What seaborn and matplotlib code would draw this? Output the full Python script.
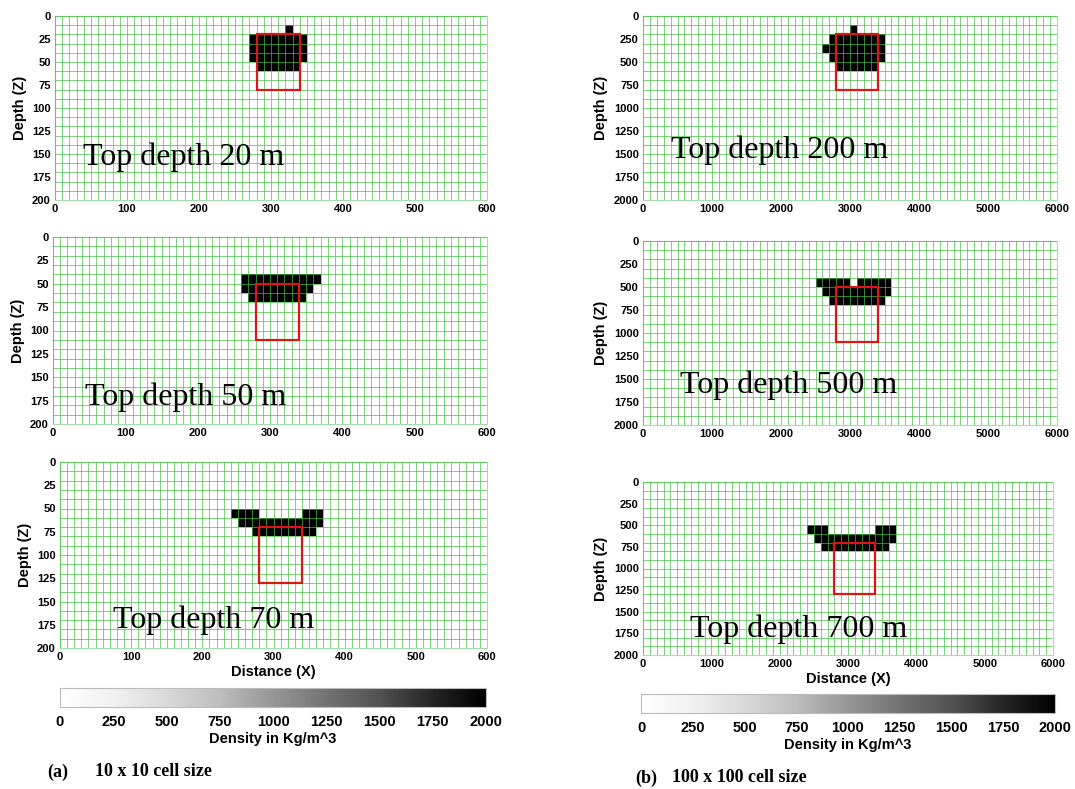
import numpy as np
import matplotlib
matplotlib.use("Agg")
import matplotlib.pyplot as plt
import seaborn as sns
from matplotlib.patches import Rectangle

# ---------------- data ----------------
density_value = 2000
n_cols, n_rows = 60, 20

# black cells given as runs: (top depth of row, x start, x end)
rows_a20 = [(10, 320, 330), (20, 270, 350), (30, 270, 350), (40, 270, 350), (50, 280, 340)]
rows_a50 = [(40, 260, 370), (50, 260, 360), (60, 270, 350)]
rows_a70 = [(50, 240, 280), (50, 340, 370), (60, 250, 370), (70, 270, 360)]
rows_b200 = [(100, 3000, 3100), (200, 2700, 3500), (300, 2600, 3500), (400, 2700, 3500), (500, 2800, 3400)]
rows_b500 = [(400, 2500, 3000), (400, 3100, 3600), (500, 2600, 3600), (600, 2700, 3500)]
rows_b700 = [(500, 2400, 2700), (500, 3400, 3700), (600, 2500, 3700), (700, 2600, 3600)]

top_depths_a = [20, 50, 70]
top_depths_b = [200, 500, 700]
box_x_a = [280, 340]
box_x_b = [2800, 3400]
box_h_a = 60
box_h_b = 600
cell_a = 10
cell_b = 100

xtick_a = [0, 100, 200, 300, 400, 500, 600]
ytick_a = [0, 25, 50, 75, 100, 125, 150, 175, 200]
xtick_b = [0, 1000, 2000, 3000, 4000, 5000, 6000]
ytick_b = [0, 250, 500, 750, 1000, 1250, 1500, 1750, 2000]
cbar_ticks = [0, 250, 500, 750, 1000, 1250, 1500, 1750, 2000]

# ---------------- layout ----------------
W, H = 1075, 789
fig = plt.figure(figsize=(W / 100, H / 100), dpi=100)
plt.rcParams['font.family'] = ['Liberation Sans', 'DejaVu Sans']


def px_axes(x0, x1, y0, y1):
    return fig.add_axes([x0 / W, (H - y1) / H, (x1 - x0) / W, (y1 - y0) / H])


panels = [
    (rows_a20, cell_a, top_depths_a[0], box_x_a, box_h_a, xtick_a, ytick_a, (55, 487, 16, 200), (0.065, 0.234), False),
    (rows_a50, cell_a, top_depths_a[1], box_x_a, box_h_a, xtick_a, ytick_a, (53, 487, 237, 424), (0.074, 0.144), False),
    (rows_a70, cell_a, top_depths_a[2], box_x_a, box_h_a, xtick_a, ytick_a, (60, 487, 462, 648), (0.124, 0.15), True),
    (rows_b200, cell_b, top_depths_b[0], box_x_b, box_h_b, xtick_b, ytick_b, (643, 1057, 16, 200), (0.068, 0.272), False),
    (rows_b500, cell_b, top_depths_b[1], box_x_b, box_h_b, xtick_b, ytick_b, (643, 1057, 241, 425), (0.089, 0.217), False),
    (rows_b700, cell_b, top_depths_b[2], box_x_b, box_h_b, xtick_b, ytick_b, (643, 1053, 482, 655), (0.115, 0.15), True),
]

cbar_px = [(60, 486, 688, 707), (641, 1055, 694, 713)]
grid_color = '#45c045'

for i, (rows, cell, top, bx, bh, xt, yt, apx, tpos, show_xl) in enumerate(panels):
    grid = np.zeros((n_rows, n_cols))
    for (z, xs, xe) in rows:
        r = int(round(z / cell))
        grid[r, int(round(xs / cell)):int(round(xe / cell))] = density_value

    ax = px_axes(*apx)
    draw_cbar = i in (2, 5)
    cax = None
    if draw_cbar:
        cpx = cbar_px[0] if i == 2 else cbar_px[1]
        cax = px_axes(*cpx)
    sns.heatmap(grid, ax=ax, cmap='Greys', vmin=0, vmax=2000,
                cbar=draw_cbar, cbar_ax=cax,
                cbar_kws={'orientation': 'horizontal', 'ticks': cbar_ticks} if draw_cbar else None,
                xticklabels=False, yticklabels=False)

    ax.set_xticks([v / cell for v in xt])
    ax.set_xticklabels([str(v) for v in xt], fontsize=8, fontweight='bold', rotation=0)
    ax.set_yticks([v / cell for v in yt])
    ax.set_yticklabels([str(v) for v in yt], fontsize=8, fontweight='bold', rotation=0)
    ax.tick_params(length=0, pad=3)
    ax.set_xticks(np.arange(0, n_cols + 1), minor=True)
    ax.set_yticks(np.arange(0, n_rows + 1), minor=True)
    ax.tick_params(which='minor', length=0)
    ax.xaxis.remove_overlapping_locs = False
    ax.yaxis.remove_overlapping_locs = False
    ax.grid(which='minor', color=grid_color, lw=0.7, alpha=0.7)
    ax.grid(which='major', visible=False)
    ax.set_axisbelow(False)
    for s in ax.spines.values():
        s.set_visible(True)
        s.set_color('#a8dca8')
        s.set_linewidth(0.8)

    ax.set_ylabel('Depth (Z)', fontsize=10.5, fontweight='bold', labelpad=4)
    if show_xl:
        ax.set_xlabel('Distance (X)', fontsize=10.5, fontweight='bold', labelpad=2)
    else:
        ax.set_xlabel('')

    ax.add_patch(Rectangle((bx[0] / cell, top / cell), (bx[1] - bx[0]) / cell, bh / cell,
                           fill=False, edgecolor='#dd1515', lw=1.6, zorder=5))

    ax.text(tpos[0], tpos[1], f'Top depth {top} m', transform=ax.transAxes,
            fontsize=23, family='Liberation Serif', va='center', ha='left', zorder=6)

    if draw_cbar:
        cb = ax.collections[0].colorbar
        cb.outline.set_edgecolor('#bbbbbb')
        cb.outline.set_linewidth(0.8)
        cax.tick_params(length=0, pad=6, labelsize=10.5)
        for t in cax.get_xticklabels():
            t.set_fontweight('bold')
        cax.set_xlabel('Density in Kg/m^3', fontsize=10.5, fontweight='bold', labelpad=2)

fig.text(47 / W, 1 - 772 / H, '(a)', fontsize=13, fontweight='bold', family='Liberation Serif', va='center')
fig.text(95 / W, 1 - 772 / H, '10 x 10 cell size', fontsize=13, fontweight='bold', family='Liberation Serif', va='center')
fig.text(635 / W, 1 - 778 / H, '(b)', fontsize=13, fontweight='bold', family='Liberation Serif', va='center')
fig.text(672 / W, 1 - 778 / H, '100 x 100 cell size', fontsize=13, fontweight='bold', family='Liberation Serif', va='center')

fig.savefig('out.png', dpi=100)
